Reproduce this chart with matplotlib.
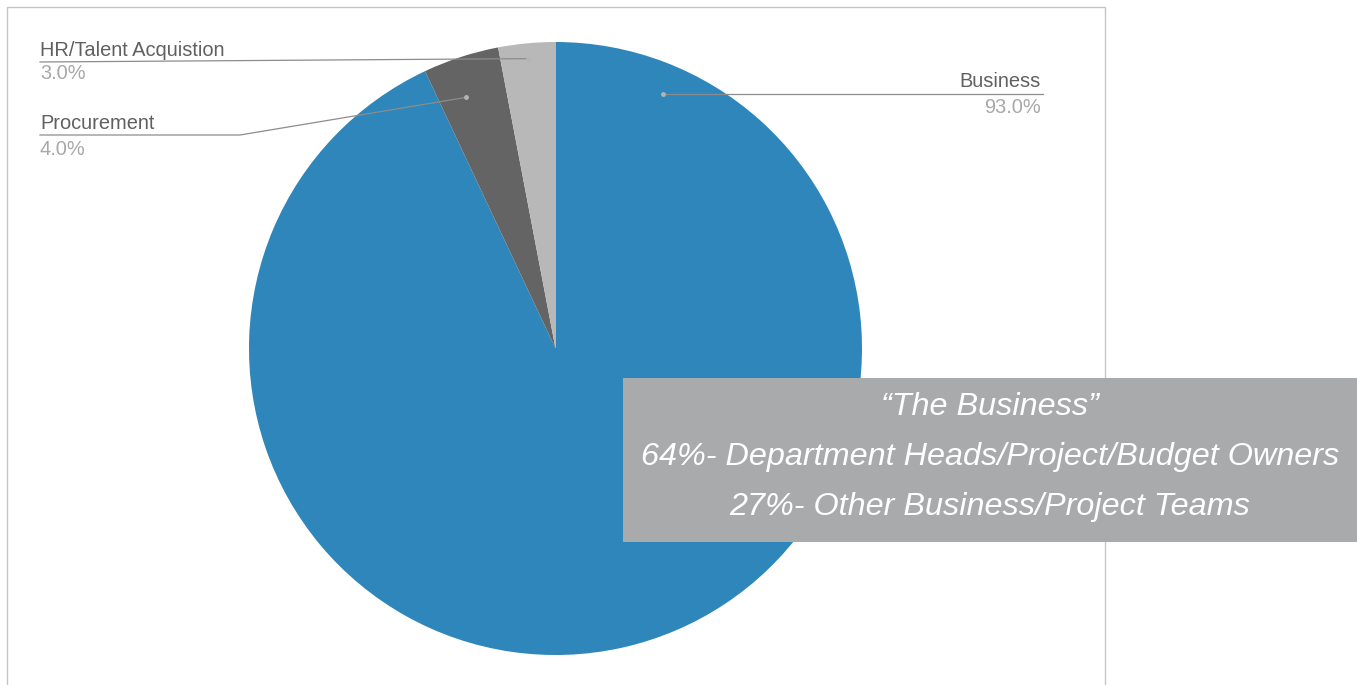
import numpy as np
import matplotlib
matplotlib.use("Agg")
import matplotlib.pyplot as plt
from matplotlib.patches import Rectangle

# Survey shares by group
categories = ["Business", "Procurement", "HR/Talent Acquistion"]
shares = [93.0, 4.0, 3.0]
colors = ["#2E86BA", "#646464", "#B8B8B8"]

box_lines = ["\u201cThe Business\u201d",
             "64%- Department Heads/Project/Budget Owners",
             "27%- Other Business/Project Teams"]

W, H = 1357, 685
fig = plt.figure(figsize=(W / 100, H / 100), dpi=100)
fig.patch.set_facecolor("white")

# Pie axes
cx, cy, R = 555.5, 348.5, 306.5
ax = fig.add_axes([(cx - R) / W, (H - cy - R) / H, 2 * R / W, 2 * R / H])
wedges, _ = ax.pie(shares, colors=colors, startangle=90, counterclock=False,
                   radius=1, wedgeprops=dict(linewidth=0))
ax.set_xlim(-1, 1)
ax.set_ylim(-1, 1)
ax.axis("off")
ax.set_zorder(1)

# Overlay axes in pixel units (y downwards) for frame, labels and box
ov = fig.add_axes([0, 0, 1, 1])
ov.set_xlim(0, W)
ov.set_ylim(H, 0)
ov.axis("off")
ov.patch.set_alpha(0)
ov.set_zorder(2)

# Chart frame
ov.add_patch(Rectangle((7, 7), 1098, 700, fill=False, ec="#C6C6C6", lw=1.0, zorder=1))


def to_px(angle_deg, r):
    a = np.deg2rad(angle_deg)
    return cx + R * r * np.cos(a), cy - R * r * np.sin(a)


label_col = "#606060"
pct_col = "#A8A8A8"
line_col = "#8C8C8C"
dot_col = "#B4B4B4"
fp = dict(family=["Liberation Sans", "DejaVu Sans"], fontsize=14.4)

# Business label (right side)
bx, by = to_px(90 - 22.9, 0.9)
ov.plot([bx, 1043], [by, by], color=line_col, lw=0.9, zorder=5)
ov.plot(bx, by, "o", ms=2.5, color=dot_col, zorder=6)
ov.text(1041, by - 13, categories[0], ha="right", va="center", color=label_col, **fp)
ov.text(1041, by + 13, f"{shares[0]:.1f}%", ha="right", va="center", color=pct_col, **fp)

# Procurement label (left side, with elbow)
w = wedges[1]
mid = (w.theta1 + w.theta2) / 2 + 1.7
px_, py_ = to_px(mid, 0.87)
ov.plot([px_, 240, 40], [py_, 135, 135], color=line_col, lw=0.9, zorder=5)
ov.plot(px_, py_, "o", ms=2.5, color=dot_col, zorder=6)
ov.text(40, 123, categories[1], ha="left", va="center", color=label_col, **fp)
ov.text(40, 149, f"{shares[1]:.1f}%", ha="left", va="center", color=pct_col, **fp)

# HR label (left side)
w = wedges[2]
mid = (w.theta1 + w.theta2) / 2
hx, hy = to_px(mid, 0.95)
ov.plot([hx, 40], [hy, 62], color=line_col, lw=0.9, zorder=5)
ov.plot(hx, hy, "o", ms=2.5, color=dot_col, zorder=6)
ov.text(40, 50, categories[2], ha="left", va="center", color=label_col, **fp)
ov.text(40, 73, f"{shares[2]:.1f}%", ha="left", va="center", color=pct_col, **fp)

# Annotation box
ov.add_patch(Rectangle((623, 378), W - 623, 164, fc="#A9AAAC", ec="none", zorder=8))
for i, t in enumerate(box_lines):
    ov.text(990, 407 + 50 * i, t, ha="center", va="center", color="white",
            style="italic", family=["Liberation Sans", "DejaVu Sans"],
            fontsize=23.3, zorder=9)

fig.savefig("out.png", dpi=100, facecolor="white")
